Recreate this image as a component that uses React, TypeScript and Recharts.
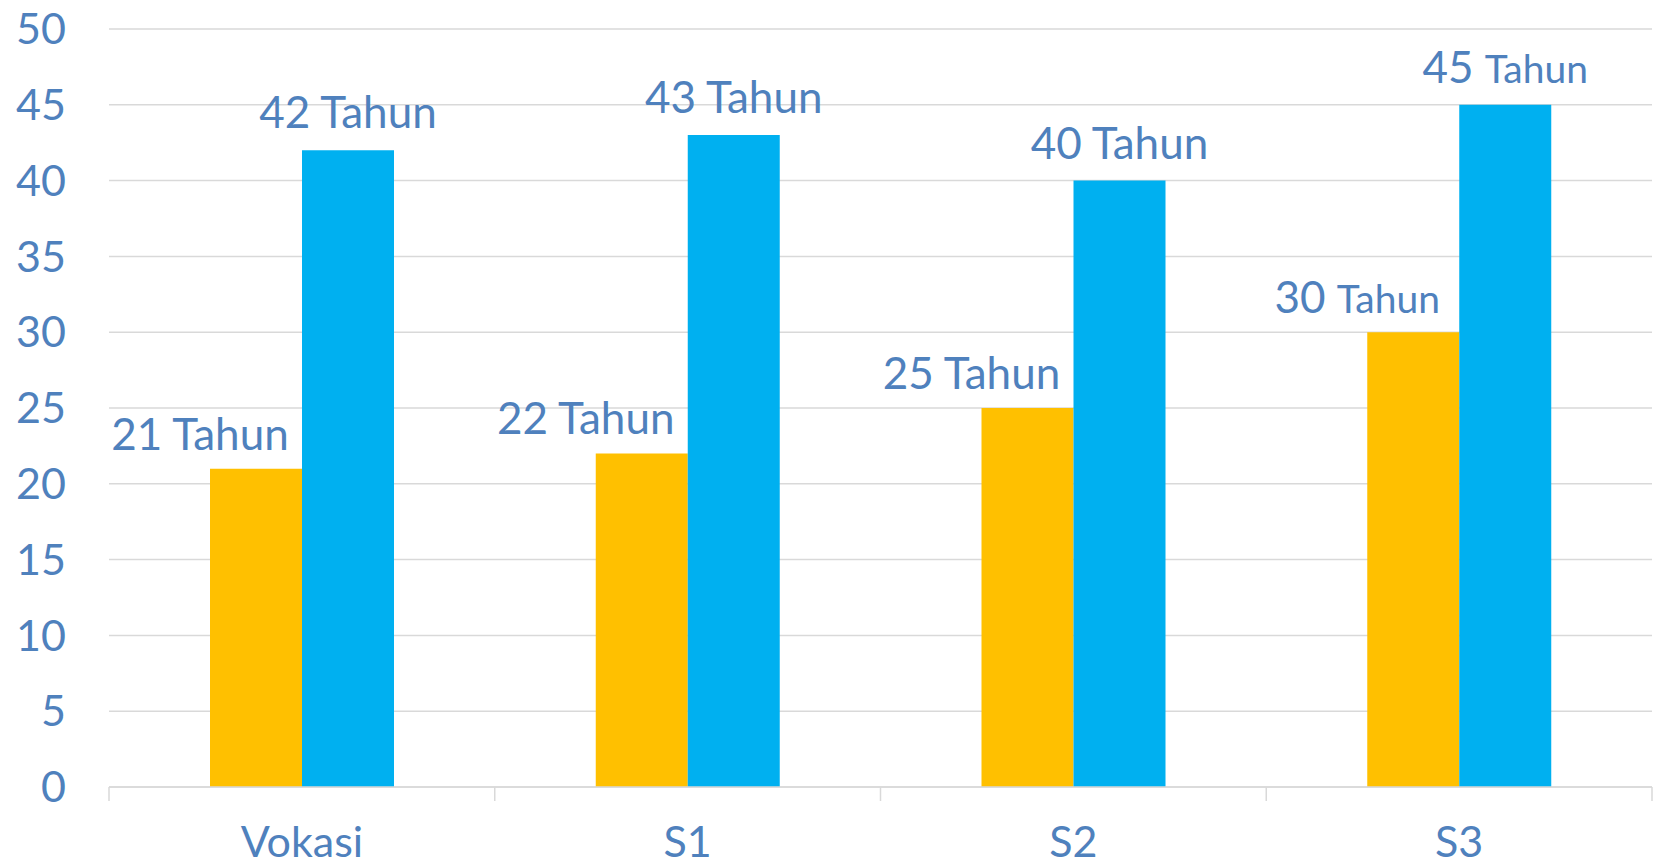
import React from 'react';
import { BarChart, Bar, XAxis, YAxis, CartesianGrid, LabelList } from 'recharts';

const categories = ['Vokasi', 'S1', 'S2', 'S3'];
const seriesA = [21, 22, 25, 30];
const seriesB = [42, 43, 40, 45];
const yTicks = [0, 5, 10, 15, 20, 25, 30, 35, 40, 45, 50];
const labelSuffix = 'Tahun';

const data = categories.map((c, i) => ({ category: c, a: seriesA[i], b: seriesB[i] }));

const TEXT = '#4F81BD';
const GRID = '#D9D9D9';
const FONT = 'Lato, "Open Sans", sans-serif';
const compactValues = new Set([30, 45]);

const makeLabel = (dx: number, gap: number) => (props: any) => {
  const { x, y, width, value } = props;
  const cx = Number(x) + Number(width) / 2 + dx;
  const small = compactValues.has(Number(value));
  return (
    <text x={cx} y={Number(y) - gap} textAnchor="middle" fill={TEXT} fontFamily={FONT} fontSize={44}>
      <tspan>{value} </tspan>
      <tspan fontSize={small ? 39 : 44}>{labelSuffix}</tspan>
    </text>
  );
};

const XTick = (props: any) => {
  const { x, y, payload, index } = props;
  const half = payload && payload.offset ? payload.offset : (1652 - 109) / categories.length / 2;
  return (
    <g>
      <line x1={x - half} x2={x - half} y1={y} y2={y + 14} stroke={GRID} strokeWidth={1.5} />
      {index === categories.length - 1 && (
        <line x1={x + half} x2={x + half} y1={y} y2={y + 14} stroke={GRID} strokeWidth={1.5} />
      )}
      <text x={x} y={y + 70} textAnchor="middle" fill={TEXT} fontFamily={FONT} fontSize={43}>
        {payload.value}
      </text>
    </g>
  );
};

export default function App() {
  return (
    <div style={{ position: 'absolute', left: 0, top: 0, background: '#fff' }}>
      <BarChart
        width={1663}
        height={865}
        data={data}
        margin={{ top: 29, right: 11, left: 0, bottom: 0 }}
        barGap={0}
      >
        <CartesianGrid vertical={false} stroke={GRID} strokeWidth={1.5} />
        <XAxis
          dataKey="category"
          height={78}
          tickLine={false}
          tickSize={0}
          tickMargin={0}
          interval={0}
          axisLine={{ stroke: GRID, strokeWidth: 1.5 }}
          tick={<XTick />}
        />
        <YAxis
          width={109}
          domain={[0, 50]}
          ticks={yTicks}
          axisLine={false}
          tickLine={false}
          tickSize={0}
          tickMargin={43}
          interval={0}
          tick={{ fill: TEXT, fontFamily: FONT, fontSize: 43 }}
        />
        <Bar dataKey="a" fill="#FFC000" barSize={92} isAnimationActive={false}>
          <LabelList dataKey="a" content={makeLabel(-56, 19)} />
        </Bar>
        <Bar dataKey="b" fill="#00B0F0" barSize={92} isAnimationActive={false}>
          <LabelList dataKey="b" content={makeLabel(0, 22)} />
        </Bar>
      </BarChart>
    </div>
  );
}
